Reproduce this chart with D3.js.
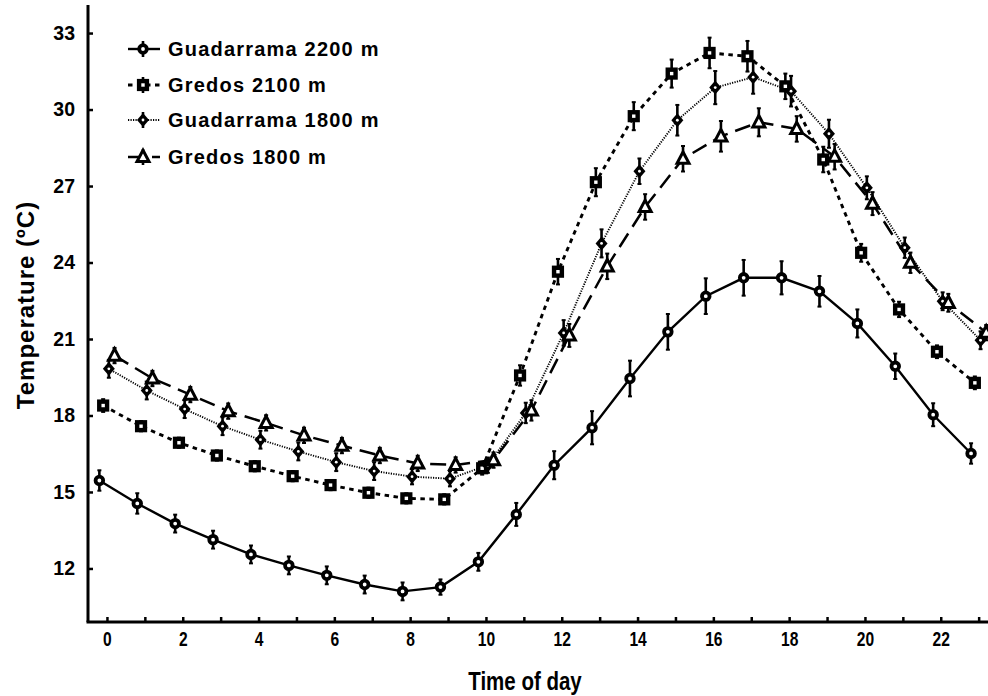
<!DOCTYPE html>
<html><head><meta charset="utf-8">
<script src="https://cdn.jsdelivr.net/npm/d3@7"></script>
<style>
html,body{margin:0;padding:0;background:#fff;}
svg{display:block;}
text{font-family:"Liberation Sans",Arial,sans-serif;font-weight:bold;fill:#000;}
</style></head>
<body>
<svg id="chart" width="988" height="696"></svg>
<script>
const hours = d3.range(0, 24);
const xTickLabels = [0,2,4,6,8,10,12,14,16,18,20,22];
const yTickLabels = [12,15,18,21,24,27,30,33];
const seriesNames = ["Guadarrama 2200 m","Gredos 2100 m","Guadarrama 1800 m","Gredos 1800 m"];
const seriesOffsets = [-0.2,-0.1,0.05,0.2];

const guad2200 = [15.45,14.55,13.76,13.13,12.55,12.12,11.73,11.37,11.10,11.27,12.26,14.12,16.05,17.52,19.45,21.28,22.68,23.40,23.40,22.87,21.61,19.93,18.03,16.51];
const guad2200Err = [0.4,0.4,0.35,0.35,0.35,0.35,0.35,0.35,0.35,0.3,0.35,0.45,0.55,0.65,0.7,0.7,0.7,0.7,0.65,0.6,0.55,0.5,0.45,0.4];
const gred2100 = [18.39,17.58,16.93,16.43,16.01,15.62,15.27,14.97,14.75,14.71,15.93,19.57,23.64,27.15,29.74,31.41,32.22,32.09,30.91,28.04,24.38,22.16,20.50,19.28];
const gred2100Err = [0.25,0.2,0.2,0.2,0.2,0.2,0.2,0.2,0.2,0.2,0.25,0.4,0.5,0.55,0.55,0.55,0.6,0.6,0.5,0.5,0.35,0.3,0.25,0.25];
const guad1800 = [19.83,18.98,18.25,17.58,17.05,16.59,16.17,15.82,15.60,15.52,16.05,18.10,21.24,24.75,27.58,29.58,30.86,31.27,30.72,29.05,26.93,24.58,22.48,20.95];
const guad1800Err = [0.35,0.35,0.35,0.35,0.35,0.35,0.35,0.35,0.3,0.3,0.3,0.4,0.5,0.55,0.5,0.6,0.65,0.65,0.6,0.55,0.45,0.4,0.35,0.35];
const gred1800 = [20.35,19.45,18.82,18.17,17.71,17.22,16.82,16.43,16.12,16.06,16.25,18.20,21.14,23.85,26.18,28.07,28.95,29.50,29.24,28.15,26.31,23.99,22.42,21.25];
const gred1800Err = [0.3,0.3,0.3,0.3,0.3,0.3,0.3,0.3,0.3,0.3,0.3,0.4,0.45,0.5,0.5,0.5,0.6,0.55,0.5,0.5,0.45,0.4,0.35,0.3];

const seriesValues = [guad2200, gred2100, guad1800, gred1800];
const seriesErrors = [guad2200Err, gred2100Err, guad1800Err, gred1800Err];

// styles
const lineDash = [null, "4.5,4.5", "1.2,1.3", "16,8"];
const lineWidth = [2.4, 2.9, 1.9, 2.5];
const markerType = ["circle","square","diamond","triangle"];
const narrowFont = '"Liberation Sans Narrow","Arial Narrow","Liberation Sans",sans-serif';

const svg = d3.select("#chart");
const x = d3.scaleLinear().domain([-0.5, 23.5]).range([88, 997.6]);
const y = d3.scaleLinear().domain([9.9, 34.1]).range([622, 5]);

function drawMarker(g, type, cx, cy) {
  if (type === "circle") {
    g.append("circle").attr("cx", cx).attr("cy", cy).attr("r", 3.8)
      .attr("fill", "#fff").attr("stroke", "#000").attr("stroke-width", 3.8);
  } else if (type === "square") {
    g.append("rect").attr("x", cx - 3.9).attr("y", cy - 3.9).attr("width", 7.8).attr("height", 7.8)
      .attr("fill", "#fff").attr("stroke", "#000").attr("stroke-width", 4.4);
  } else if (type === "diamond") {
    g.append("path").attr("d", `M${cx},${cy-7}L${cx+6},${cy}L${cx},${cy+7}L${cx-6},${cy}Z`)
      .attr("fill", "#000");
    g.append("circle").attr("cx", cx).attr("cy", cy).attr("r", 1.4).attr("fill", "#fff");
  } else {
    g.append("path").attr("d", `M${cx},${cy-6.8}L${cx+6},${cy+4.6}L${cx-6},${cy+4.6}Z`)
      .attr("fill", "#fff").attr("stroke", "#000").attr("stroke-width", 3).attr("stroke-linejoin", "miter");
  }
}

function drawErr(g, cx, v, e) {
  const y0 = y(v - e), y1 = y(v + e);
  g.append("line").attr("x1", cx).attr("x2", cx).attr("y1", y0).attr("y2", y1)
    .attr("stroke", "#000").attr("stroke-width", 2.6);
  [y0, y1].forEach(yy => g.append("line").attr("x1", cx - 2).attr("x2", cx + 2)
    .attr("y1", yy).attr("y2", yy).attr("stroke", "#000").attr("stroke-width", 2));
}

// axes
const yAxis = d3.axisLeft(y).tickValues(yTickLabels).tickSize(-5).tickPadding(13).tickFormat(d3.format("d"));
const gy = svg.append("g").attr("transform", "translate(88,0)").call(yAxis);
gy.select(".domain").attr("stroke", "#000").attr("stroke-width", 3).attr("d", `M0,${y(34.1)}V${y(9.9)}`);
gy.selectAll(".tick line").attr("stroke", "#000").attr("stroke-width", 2.5);
gy.selectAll(".tick text").style("font-size", "19.5px").attr("x", -13);

const xAxis = d3.axisBottom(x).tickValues(hours).tickSize(-5).tickPadding(12)
  .tickFormat(d => xTickLabels.includes(d) ? d : "");
const gx = svg.append("g").attr("transform", "translate(0,622)").call(xAxis);
gx.select(".domain").attr("stroke", "#000").attr("stroke-width", 3).attr("d", `M86.5,0H${x(23.5)}`);
gx.selectAll(".tick line").attr("stroke", "#000").attr("stroke-width", 2.5);
gx.selectAll(".tick text").style("font-size", "20px")
  .style("font-family", narrowFont)
  .attr("transform", "scale(0.78,1)")
  .attr("y", 10).attr("dy", "0.71em");

// axis titles
svg.append("text").attr("transform", "translate(525,690) scale(0.82,1)").attr("text-anchor", "middle")
  .style("font-size", "25px")
  .style("font-family", narrowFont)
  .text("Time of day");
svg.append("text").attr("transform", "translate(34,305) rotate(-90)").attr("text-anchor", "middle")
  .style("font-size", "24px").style("letter-spacing", "1px")
  .text("Temperature (ºC)");

// series
const plot = svg.append("g");
seriesValues.forEach((vals, i) => {
  const pts = hours.map((h, k) => [x(h + seriesOffsets[i]), y(vals[k])]);
  plot.append("path").attr("d", d3.line()(pts)).attr("fill", "none")
    .attr("stroke", "#000").attr("stroke-width", lineWidth[i])
    .attr("stroke-dasharray", lineDash[i]);
});
seriesValues.forEach((vals, i) => {
  const g = plot.append("g");
  hours.forEach((h, k) => {
    const cx = x(h + seriesOffsets[i]);
    drawErr(g, cx, vals[k], seriesErrors[i][k]);
    drawMarker(g, markerType[i], cx, y(vals[k]));
  });
});

// legend
const legY = [49, 85, 120, 157];
const leg = svg.append("g");
seriesNames.forEach((name, i) => {
  const cy = legY[i];
  leg.append("line").attr("x1", 128).attr("x2", 160).attr("y1", cy).attr("y2", cy)
    .attr("stroke", "#000").attr("stroke-width", lineWidth[i])
    .attr("stroke-dasharray", lineDash[i]);
  leg.append("line").attr("x1", 143).attr("x2", 143).attr("y1", cy - 8).attr("y2", cy + 8)
    .attr("stroke", "#000").attr("stroke-width", 2.6);
  drawMarker(leg, markerType[i], 143, cy);
  leg.append("text").attr("x", 168).attr("y", cy + 7)
    .style("font-size", "20px").style("letter-spacing", "1.2px").text(name);
});
</script>
</body></html>
